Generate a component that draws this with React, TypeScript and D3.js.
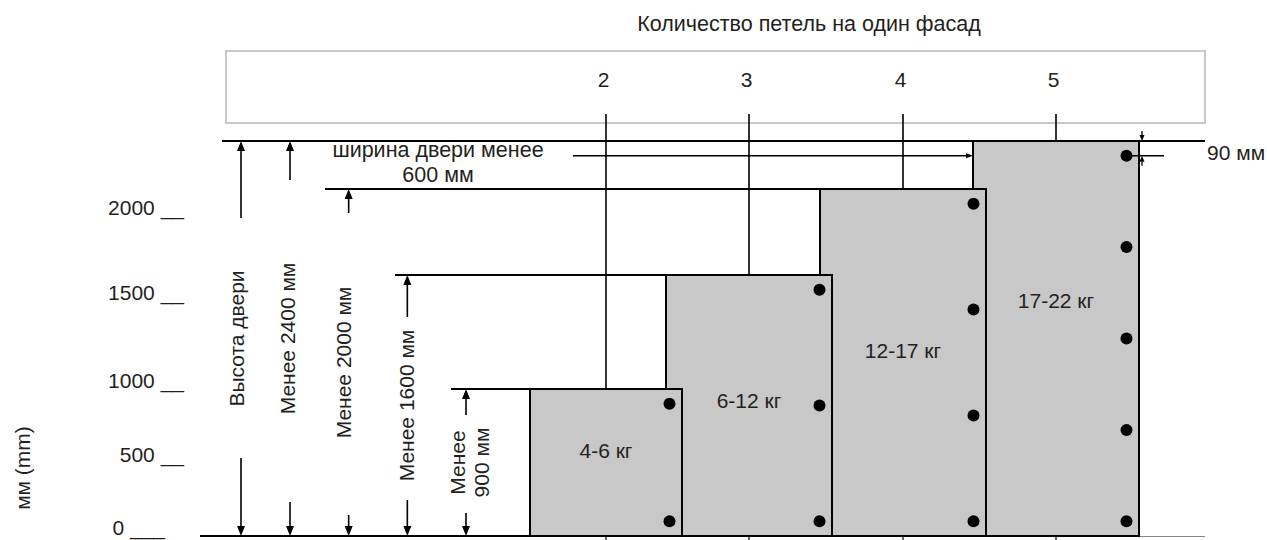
import React from 'react';
import * as d3 from 'd3';

const W = 1267;
const H = 540;

// ---- data ----
const hingeCounts = [2, 3, 4, 5];
const doorHeights = [900, 1600, 2000, 2400]; // mm (upper limits)
const weightLabels = ['4-6 кг', '6-12 кг', '12-17 кг', '17-22 кг'];
const heightLabels = ['Менее\n900 мм', 'Менее 1600 мм', 'Менее 2000 мм', 'Менее 2400 мм'];
const axisTicks = [0, 500, 1000, 1500, 2000];
const hingeOffsetMm = 90;
const titleText = 'Количество петель на один фасад';
const widthText = ['ширина двери менее', '600 мм'];
const doorHeightTitle = 'Высота двери';
const yAxisTitle = 'мм (mm)';

// ---- layout ----
const FONT = '"Liberation Sans", Arial, Helvetica, sans-serif';
const TXT = '#231f20';
const FS = 21;

const yBox = d3.scaleLinear().domain([0, ...doorHeights]).range([536, 389, 275, 189, 141]);
const yTick = d3.scaleLinear().domain(axisTicks).range([535, 462, 388, 300, 215]);
const xCol = d3.scaleLinear().domain(hingeCounts).range([606, 749, 903, 1056]);
const boxW = d3.scaleLinear().domain([2, 3]).range([152, 166]).clamp(true);
const xDim = d3.scalePoint<number>().domain([...doorHeights].reverse()).range([290, 466]);
const yLabel = d3.scalePoint<number>().domain(hingeCounts).range([450, 300]);
const dPx = yBox(0) - yBox(hingeOffsetMm);

function VArrow({ x, from, to, head = 10, hw = 4, sw = 1.6 }: any) {
  const dir = Math.sign(to - from);
  const base = to - dir * head;
  return (
    <g>
      <line x1={x} x2={x} y1={from} y2={base} stroke="#000" strokeWidth={sw} />
      <path d={`M${x},${to}L${x - hw},${base}L${x + hw},${base}Z`} fill="#000" />
    </g>
  );
}

function HArrow({ y, from, to, head = 7, hw = 2.5, sw = 1.6 }: any) {
  const dir = Math.sign(to - from);
  const base = to - dir * head;
  return (
    <g>
      <line x1={from} x2={base} y1={y} y2={y} stroke="#000" strokeWidth={sw} />
      <path d={`M${to},${y}L${base},${y - hw}L${base},${y + hw}Z`} fill="#000" />
    </g>
  );
}

function RotText({ x, y, text, lh = 24 }: any) {
  const lines = String(text).split('\n');
  return (
    <g>
      {lines.map((l, i) => (
        <text
          key={i}
          transform={`translate(${x + (i - (lines.length - 1) / 2) * lh},${y}) rotate(-90)`}
          textAnchor="middle"
          dominantBaseline="central"
          fontSize={FS}
          fill={TXT}
        >
          {l}
        </text>
      ))}
    </g>
  );
}

export default function App() {
  const yTop = yBox(doorHeights[doorHeights.length - 1]);
  const y0 = yBox(0);
  const boxes = hingeCounts.map((n, i) => {
    const cx = xCol(n);
    const w = boxW(n);
    const x0 = cx - w / 2;
    const x1 = cx + w / 2;
    const top = yBox(doorHeights[i]);
    const dotY = d3.range(n).map((j) => d3.interpolateNumber(top + dPx, y0 - dPx)(j / (n - 1)));
    return { n, i, cx, x0, x1, top, dotX: x1 - 12.5, dotY };
  });
  const last = boxes[boxes.length - 1];
  const widthY = last.dotY[0];

  const dims = [
    { x: 241, top: yTop, up: 77, down: 78, label: doorHeightTitle, dx: -5 },
    ...doorHeights
      .map((h, i) => ({
        x: xDim(h)!,
        top: yBox(h),
        up: [26, 42, 24, 39][i],
        down: [23, 36, 21, 34][i],
        label: heightLabels[i],
        dx: [3, -1, -5, -3][i],
      }))
      .reverse(),
  ];
  const lineStart = [451, 395, 325, 222];

  return (
    <svg width={W} height={H} style={{ position: 'absolute', left: 0, top: 0, fontFamily: FONT }}>
      {/* title */}
      <text x={809} y={31} textAnchor="middle" fontSize={21.5} fill={TXT}>
        {titleText}
      </text>
      {/* header box */}
      <rect x={226} y={51} width={979} height={72} fill="none" stroke="#c8c8c8" strokeWidth={2} />
      {hingeCounts.map((n) => (
        <text key={n} x={xCol(n) - 2.5} y={87} textAnchor="middle" fontSize={FS} fill={TXT}>
          {n}
        </text>
      ))}
      {/* column lines */}
      {boxes.map((b) => (
        <g key={'c' + b.n}>
          <line x1={b.cx} x2={b.cx} y1={114} y2={b.top} stroke="#000" strokeWidth={1.6} />
          <line x1={b.cx} x2={b.cx} y1={y0} y2={y0 + 5} stroke="#000" strokeWidth={1.2} />
        </g>
      ))}
      {/* horizontal height lines */}
      {doorHeights.map((h, i) => (
        <line
          key={'h' + h}
          x1={lineStart[i]}
          x2={i === doorHeights.length - 1 ? 1205 : boxes[i].x0}
          y1={yBox(h)}
          y2={yBox(h)}
          stroke="#000"
          strokeWidth={1.8}
        />
      ))}
      {/* baseline */}
      <line x1={200} x2={last.x1} y1={y0} y2={y0} stroke="#000" strokeWidth={2} />
      <line x1={last.x1} x2={1205} y1={y0 + 0.5} y2={y0 + 0.5} stroke="#888" strokeWidth={1.2} />
      {/* boxes, drawn back to front */}
      {[...boxes].reverse().map((b) => (
        <g key={'b' + b.n}>
          <rect x={b.x0} y={b.top} width={b.x1 - b.x0} height={y0 - b.top} fill="#c8c8c8" stroke="#000" strokeWidth={2} />
          {b.dotY.map((dy, j) => (
            <circle key={j} cx={b.dotX} cy={dy} r={6} fill="#000" />
          ))}
          <text x={b.cx} y={yLabel(b.n)} textAnchor="middle" dominantBaseline="central" fontSize={FS} fill={TXT}>
            {weightLabels[b.i]}
          </text>
        </g>
      ))}
      {/* width indicator */}
      <HArrow y={widthY} from={573} to={last.x0} />
      <line x1={last.dotX} x2={1164} y1={widthY} y2={widthY} stroke="#000" strokeWidth={1.6} />
      <text x={438} y={157} textAnchor="middle" fontSize={21.5} fill={TXT}>
        {widthText[0]}
      </text>
      <text x={438} y={182} textAnchor="middle" fontSize={21.5} fill={TXT}>
        {widthText[1]}
      </text>
      {/* 90 mm indicator */}
      <VArrow x={last.x1 + 3} from={yTop - 10} to={yTop} head={6} hw={2.5} sw={1.3} />
      <VArrow x={last.x1 + 3} from={widthY + 10} to={widthY} head={6} hw={2.5} sw={1.3} />
      <text x={1207} y={160} fontSize={FS} fill={TXT}>
        {`${hingeOffsetMm} мм`}
      </text>
      {/* dimension arrows */}
      {dims.map((d, i) => {
        const mid = (d.top + y0) / 2;
        return (
          <g key={'d' + i}>
            <VArrow x={d.x} from={d.top + d.up} to={d.top} />
            <VArrow x={d.x} from={y0 - d.down} to={y0} />
            <RotText x={d.x + d.dx} y={mid} text={d.label} />
          </g>
        );
      })}
      {/* y tick labels */}
      {axisTicks.map((t) => (
        <text key={t} x={t === 0 ? 165 : 184} y={yTick(t)} textAnchor="end" fontSize={FS} fill={TXT}>
          {t === 0 ? '0 ___' : `${t} __`}
        </text>
      ))}
      <RotText x={22} y={468} text={yAxisTitle} />
    </svg>
  );
}
